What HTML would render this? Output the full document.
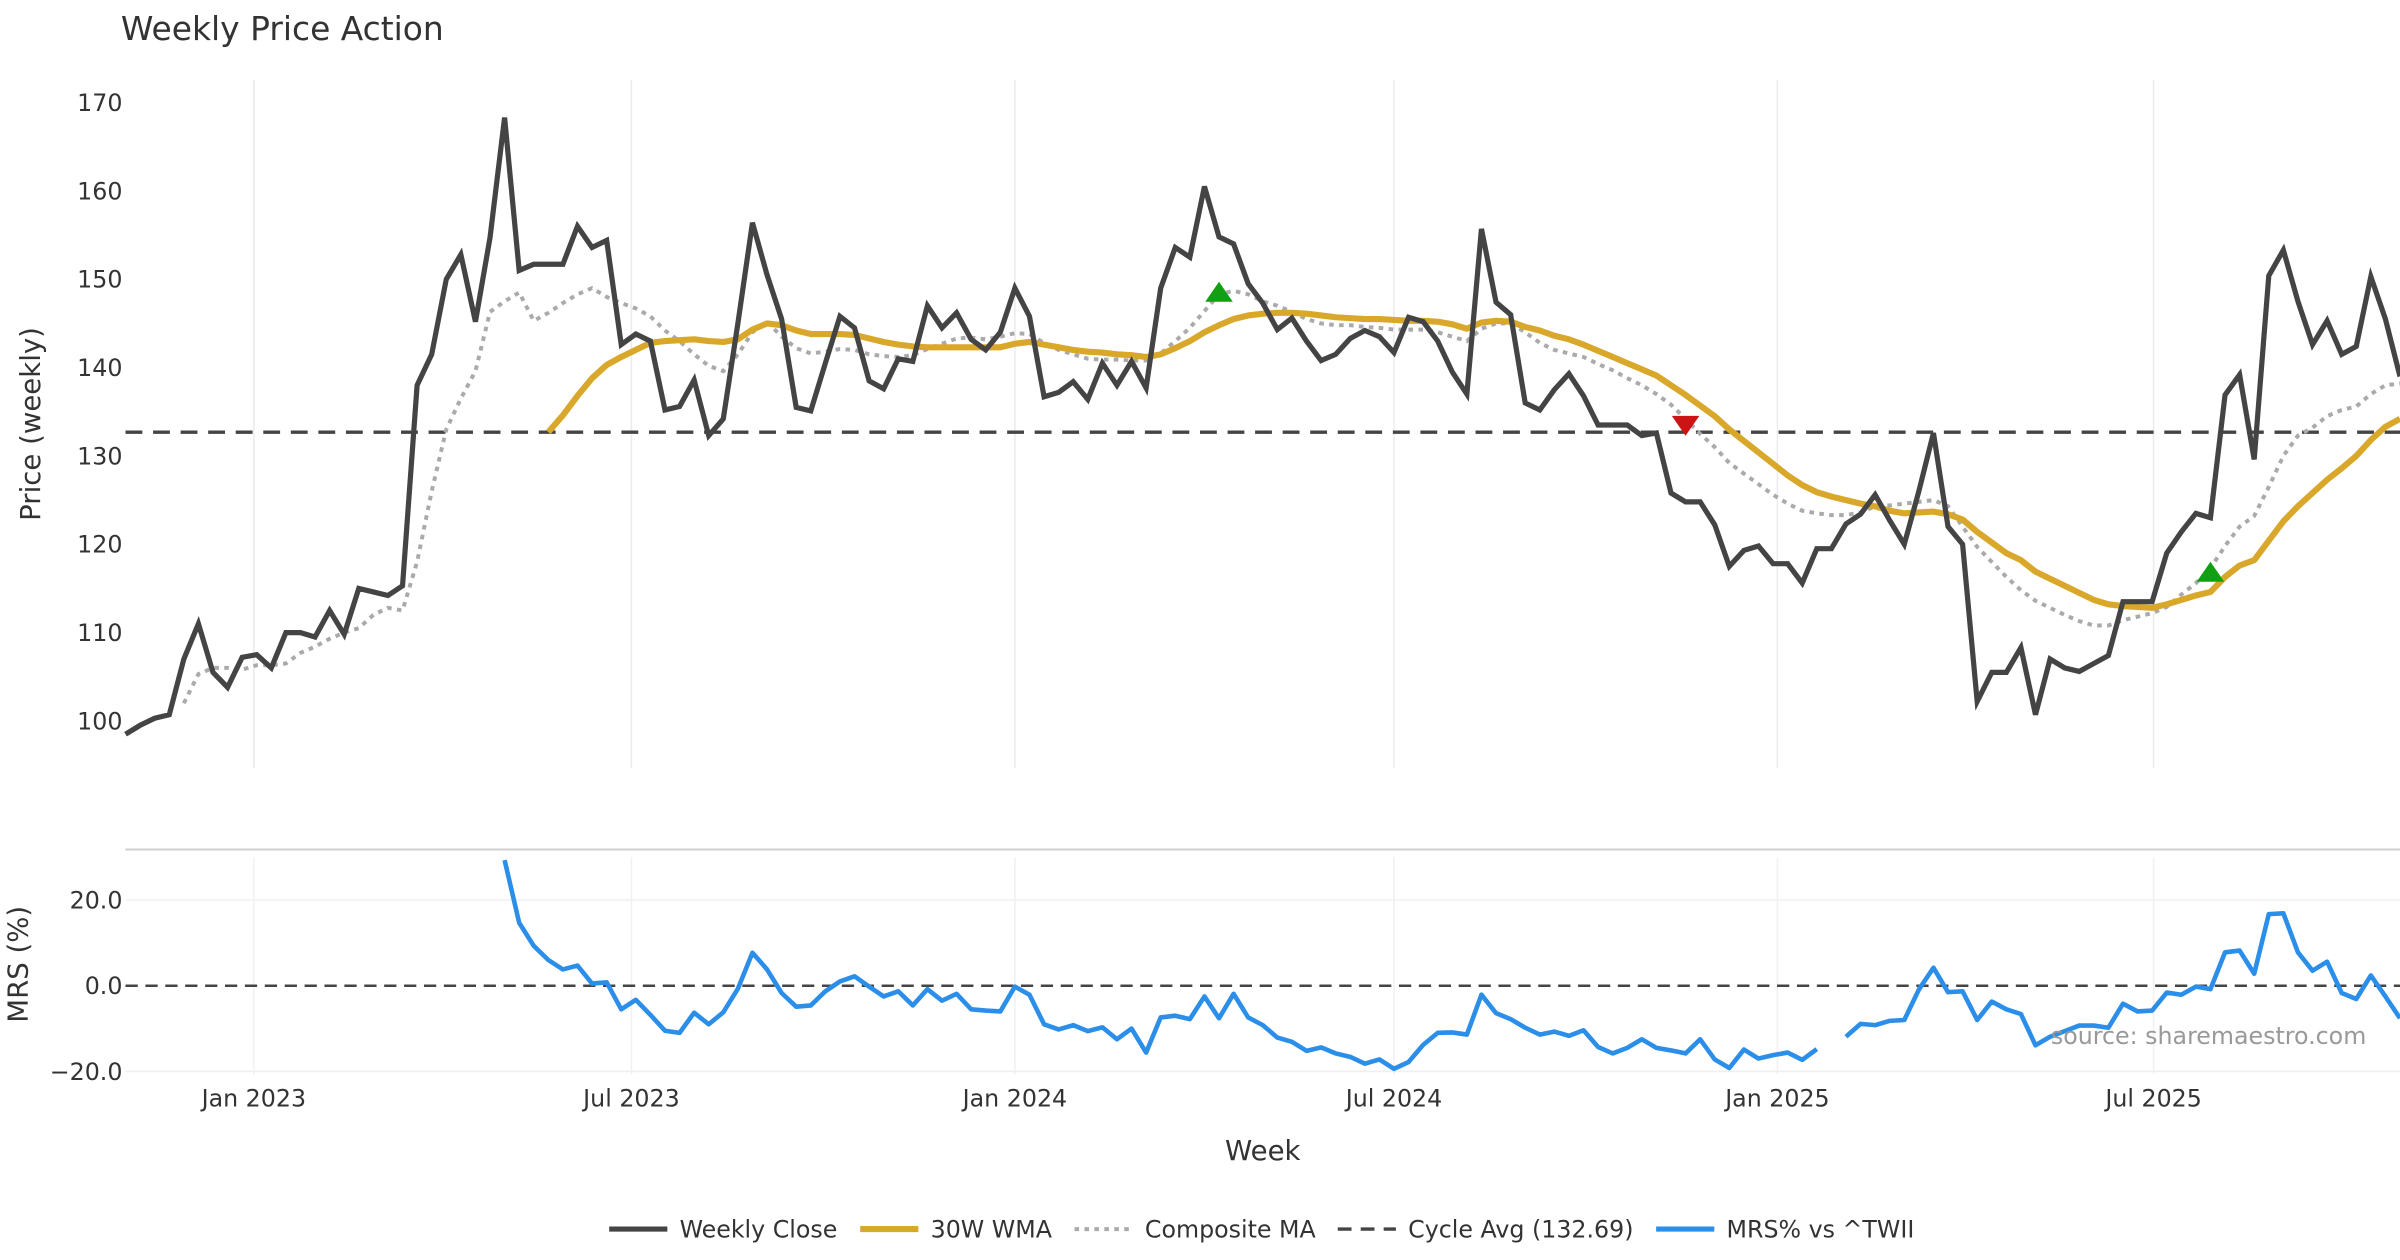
<!DOCTYPE html>
<html><head><meta charset="utf-8"><style>
html,body{margin:0;padding:0;background:#fff;}
svg{display:block;font-family:"DejaVu Sans","Liberation Sans",sans-serif;}
</style></head><body>
<svg id="chart" width="2400" height="1260" viewBox="0 0 1568 823.2" preserveAspectRatio="none" xmlns="http://www.w3.org/2000/svg">
<text x="79" y="26" font-size="21.5" fill="#333">Weekly Price Action</text>
<g id="grid"></g>
<g id="series"></g>
<g id="axes"></g>
<g id="legend"></g>
<text x="1546" y="682" font-size="15.5" fill="#999" text-anchor="end">source: sharemaestro.com</text>
</svg>
<script>
const closeVals=[98.5,99.5,100.3,100.7,107,111,105.5,103.8,107.2,107.5,106,110,110,109.5,112.5,109.8,115,114.6,114.2,115.3,138,141.5,150,152.8,145.2,154.7,168.3,151,151.7,151.7,151.7,156,153.6,154.4,142.6,143.8,143,135.2,135.6,138.6,132.3,134.2,145,156.4,150.5,145.5,135.5,135.1,140.5,145.8,144.5,138.5,137.6,141,140.7,147,144.5,146.2,143.2,142,144,149,145.8,136.7,137.2,138.4,136.4,140.5,138,140.7,137.7,149,153.6,152.5,160.5,154.8,154,149.5,147.3,144.3,145.6,143,140.8,141.5,143.3,144.2,143.5,141.7,145.7,145.2,143,139.5,137,155.7,147.4,146,136,135.2,137.5,139.3,136.8,133.5,133.5,133.5,132.3,132.6,125.8,124.8,124.8,122.2,117.5,119.3,119.8,117.8,117.8,115.6,119.5,119.5,122.3,123.4,125.6,122.7,120,126,132.6,122,120,102.2,105.5,105.5,108.3,100.7,107,106,105.6,106.5,107.4,113.5,113.5,113.5,119,121.4,123.5,123,136.9,139.2,129.6,150.4,153.3,147.5,142.6,145.3,141.5,142.4,150.3,145.5,139];
const wmaStart=29;
const wmaVals=[132.7,134.6,136.8,138.8,140.3,141.2,142,142.8,143,143.1,143.2,143,142.9,143.2,144.3,145,144.8,144.2,143.8,143.8,143.8,143.7,143.3,142.9,142.6,142.4,142.3,142.3,142.3,142.3,142.3,142.3,142.7,142.9,142.6,142.3,142,141.8,141.7,141.5,141.4,141.2,141.5,142.2,143,144,144.8,145.5,145.9,146.1,146.2,146.2,146.1,145.9,145.7,145.6,145.5,145.5,145.4,145.3,145.3,145.2,144.9,144.4,145.1,145.3,145.2,144.6,144.2,143.6,143.2,142.6,141.9,141.2,140.5,139.8,139.1,138,136.9,135.7,134.5,133,131.7,130.4,129.1,127.8,126.7,125.9,125.4,125,124.6,124.3,123.8,123.5,123.6,123.7,123.4,122.8,121.4,120.2,119,118.2,116.9,116.1,115.3,114.5,113.7,113.2,113,112.9,112.8,113.2,113.7,114.2,114.6,116.3,117.6,118.2,120.4,122.6,124.3,125.8,127.3,128.6,130,131.8,133.3,134.2];
const compStart=4;
const compVals=[102,105.3,106,106,105.8,106.3,106.3,106.5,107.7,108.4,109.3,110,110.5,112,112.8,112.5,118,126,133,136.5,139.6,146.3,147.5,148.5,145.3,146.2,147.3,148.3,149,148,147.3,146.7,145.8,144.2,143,141.5,140.2,139.6,141.5,144,145.2,143.5,142.2,141.6,141.8,142.1,142,141.5,141.3,141.2,141.4,142.1,142.7,143.3,143.4,143.2,143.5,143.9,143.8,142.8,142,141.5,141,140.9,140.9,140.8,140.8,141.6,143,144.5,146.4,148.3,148.7,148.3,147.5,147,146.3,145.5,145,144.8,144.8,144.6,144.5,144.3,144.3,144.3,144,143.5,143,144.4,145,145,144,142.8,142,141.6,141.2,140.4,139.7,138.8,138,137,135.8,134.2,132.5,131,129.2,128,126.8,125.6,124.6,123.8,123.5,123.3,123.3,123.6,124.3,124.4,124.6,124.8,125,124.3,122,119.7,118,116.3,114.8,113.6,112.8,112,111.3,110.8,110.8,111.4,111.8,112.2,112.9,114.3,115.6,117.3,119.8,122,123.2,126.5,130,132.3,133.2,134.5,135.2,135.6,137,138,138.2];
const cycleAvg=132.69;
const mrsStart=26;
const mrsVals=[29.3,14.7,9.3,6,3.8,4.7,0.5,0.8,-5.5,-3.3,-6.8,-10.5,-11,-6.3,-9,-6.2,-0.7,7.7,3.8,-1.7,-4.9,-4.6,-1.3,1,2.2,-0.2,-2.5,-1.3,-4.6,-0.8,-3.5,-1.9,-5.5,-5.8,-6,-0.2,-2.1,-9,-10.2,-9.2,-10.6,-9.7,-12.5,-10,-15.6,-7.4,-7,-7.8,-2.5,-7.6,-1.9,-7.4,-9.2,-12.1,-13.1,-15.2,-14.4,-15.8,-16.6,-18.2,-17.2,-19.4,-17.8,-13.8,-11,-10.9,-11.4,-2.1,-6.4,-7.8,-9.8,-11.4,-10.7,-11.7,-10.4,-14.3,-15.8,-14.5,-12.5,-14.5,-15.1,-15.8,-12.5,-17.2,-19.2,-14.9,-17,-16.2,-15.6,-17.3,-14.8,null,-11.9,-8.9,-9.2,-8.2,-8,-0.9,4.2,-1.5,-1.3,-8,-3.7,-5.5,-6.6,-13.9,-11.9,-10.6,-9.3,-9.3,-9.8,-4.2,-6,-5.8,-1.6,-2.1,-0.2,-0.8,7.8,8.2,2.8,16.7,16.9,7.8,3.5,5.6,-1.7,-3.1,2.4,-2.5,-7.6];
const buyIdx=[75,143];
const buyVals=[148.5,116.8];
const sellIdx=[107];
const sellVals=[133.5];
const priceTicks=[100,110,120,130,140,150,160,170];
const mrsTicks=[20,0,-20];
const mrsTickLabels=["20.0","0.0","\u221220.0"];
const dateLabels=["Jan 2023","Jul 2023","Jan 2024","Jul 2024","Jan 2025","Jul 2025"];
const dateIdx=[8.8,34.7,61,87,113.3,139.1];

const NS="http://www.w3.org/2000/svg";
const X0=82,X1=1568,N=closeVals.length;
function xS(i){return X0+i*(X1-X0)/(N-1);}
function yP(v){return 471-(v-100)*5.771;}
function yM(v){return 644-v*2.8;}
function mk(tag,attrs,parent){const e=document.createElementNS(NS,tag);for(const k in attrs)e.setAttribute(k,attrs[k]);parent.appendChild(e);return e;}
const grid=document.getElementById('grid'),series=document.getElementById('series'),axes=document.getElementById('axes'),legend=document.getElementById('legend');

dateIdx.forEach((d,k)=>{
  const x=xS(d);
  const g1=mk('line',{x1:x,x2:x,y1:52,y2:502,stroke:'#ececec','stroke-width':1},grid);
  
  
  const g2=mk('line',{x1:x,x2:x,y1:560,y2:702,stroke:'#f1f1f1','stroke-width':1},grid);
  
  
  const t=mk('text',{x:x,y:723,'font-size':15.5,fill:'#333','text-anchor':'middle'},axes);
  t.textContent=dateLabels[k];
  
  
});
priceTicks.forEach(v=>{
  const t=mk('text',{x:80,y:yP(v)+5.5,'font-size':15.5,fill:'#333','text-anchor':'end'},axes);
  t.textContent=v;
  
  
});
mrsTicks.forEach((v,k)=>{
  if(v!==0){const gl=mk('line',{x1:X0,x2:X1,y1:yM(v),y2:yM(v),stroke:'#eef0f3','stroke-width':1},grid);
  
  }
  const t=mk('text',{x:80,y:yM(v)+5.5,'font-size':15.5,fill:'#333','text-anchor':'end'},axes);
  t.textContent=mrsTickLabels[k];
  
  
});
const sep=mk('line',{x1:X0,x2:X1,y1:555,y2:555,stroke:'#cfcfcf','stroke-width':1.3},grid);



function path(vals,start,yf){let d='',pen=false;vals.forEach((v,j)=>{if(v===null){pen=false;return;}d+=(pen?'L':'M')+xS(start+j).toFixed(2)+','+yf(v).toFixed(2);pen=true;});return d;}

const cyc=mk('line',{x1:X0,x2:X1,y1:yP(cycleAvg),y2:yP(cycleAvg),stroke:'#444','stroke-width':2.2,'stroke-dasharray':'11,7'},series);


const mz=mk('line',{x1:X0,x2:X1,y1:yM(0),y2:yM(0),stroke:'#444','stroke-width':1.6,'stroke-dasharray':'8,5'},series);


const cp=mk('path',{d:path(compVals,compStart,yP),fill:'none',stroke:'#aaaaaa','stroke-width':2.6,'stroke-dasharray':'3,3.5'},series);


const wp=mk('path',{d:path(wmaVals,wmaStart,yP),fill:'none',stroke:'#d9a72a','stroke-width':4,'stroke-linejoin':'round'},series);


const clp=mk('path',{d:path(closeVals,0,yP),fill:'none',stroke:'#444','stroke-width':3.4,'stroke-linejoin':'miter'},series);


const mp=mk('path',{d:path(mrsVals,mrsStart,yM),fill:'none',stroke:'#2b8ee8','stroke-width':3,'stroke-linejoin':'round'},series);


buyIdx.forEach((i,k)=>{const x=xS(i),y=yP(buyVals[k]);
  const p=mk('polygon',{points:`${x-9},${y+6} ${x+9},${y+6} ${x},${y-7}`,fill:'#12a012'},series);
  
  });
sellIdx.forEach((i,k)=>{const x=xS(i),y=yP(sellVals[k]);
  const p=mk('polygon',{points:`${x-9},${y-6} ${x+9},${y-6} ${x},${y+7}`,fill:'#cc1414'},series);
  
  });

const yt=mk('text',{x:0,y:0,'font-size':18,fill:'#333','text-anchor':'middle',transform:'translate(26,277) rotate(-90)'},axes);
yt.textContent='Price (weekly)';


const mt=mk('text',{x:0,y:0,'font-size':18,fill:'#333','text-anchor':'middle',transform:'translate(18,630) rotate(-90)'},axes);
mt.textContent='MRS (%)';


const xt=mk('text',{x:825,y:758,'font-size':18,fill:'#333','text-anchor':'middle'},axes);
xt.textContent='Week';



const legItems=[['Weekly Close','#444',3.4,'',398],['30W WMA','#d9a72a',4,'',562],['Composite MA','#aaaaaa',2.6,'3,3.5',702],['Cycle Avg (132.69)','#444',2.2,'9,6',874],['MRS% vs ^TWII','#2b8ee8',3.4,'',1082]];
legItems.forEach(it=>{
  const l=mk('line',{x1:it[4],x2:it[4]+38,y1:803,y2:803,stroke:it[1],'stroke-width':it[2]},legend);
  if(it[3])l.setAttribute('stroke-dasharray',it[3]);
  
  
  const t=mk('text',{x:it[4]+46,y:808.5,'font-size':15.5,fill:'#333'},legend);
  t.textContent=it[0];
  
  
});
</script>
</body></html>
